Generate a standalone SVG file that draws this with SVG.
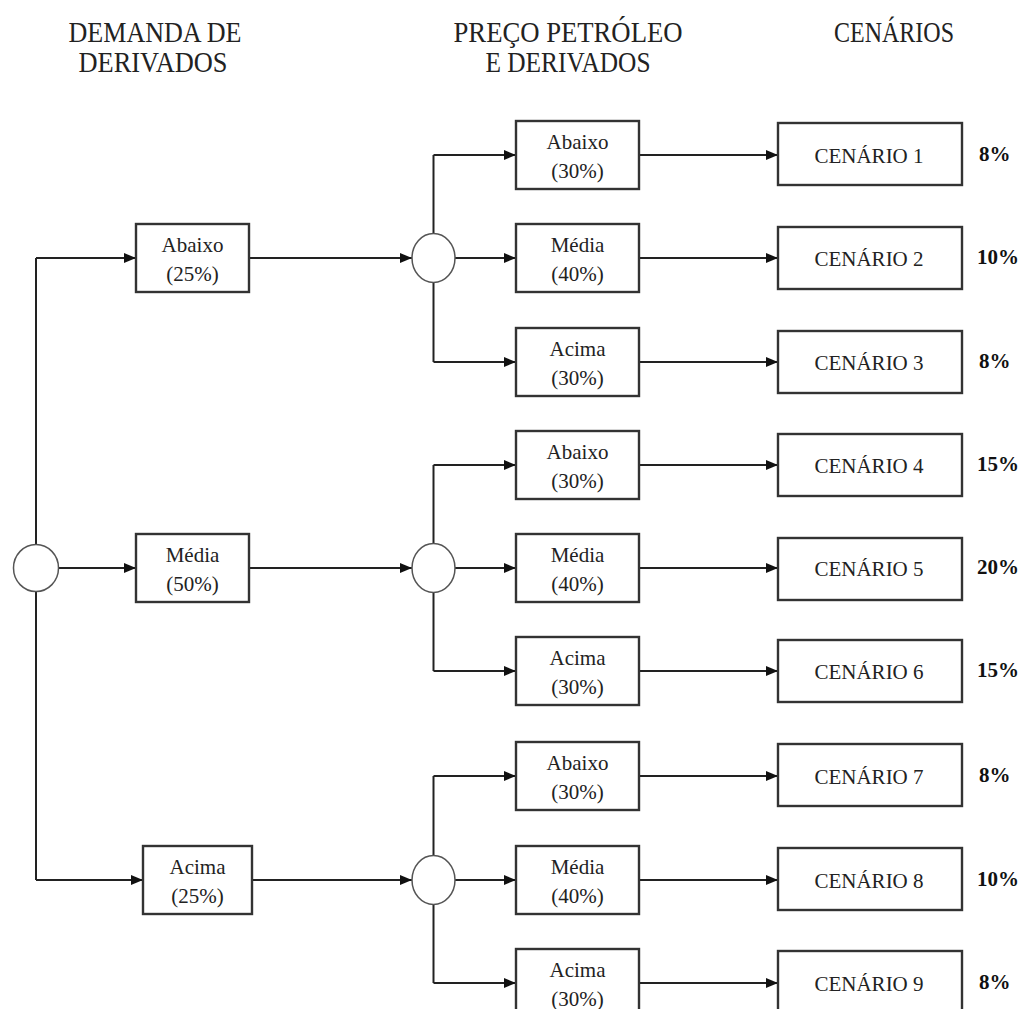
<svg xmlns="http://www.w3.org/2000/svg" width="1026" height="1009" viewBox="0 0 1026 1009">
<style>
.hdr{font-family:"Liberation Serif","Times New Roman",serif;font-size:30px;fill:#222;text-anchor:middle}
.bx{fill:#fff;stroke:#333;stroke-width:2.4}
.cen{fill:#fff;stroke:#333;stroke-width:2.4}
.ch{fill:#fff;stroke:#555;stroke-width:1.5}
.t{font-family:"Liberation Serif","Times New Roman",serif;font-size:21px;fill:#222;text-anchor:middle}
.tc{font-family:"Liberation Serif","Times New Roman",serif;font-size:21px;fill:#222;text-anchor:middle}
.p{font-family:"Liberation Serif","Times New Roman",serif;font-size:21px;font-weight:bold;fill:#111}
.ln{fill:none;stroke:#222;stroke-width:2}
.ar{marker-end:url(#ah)}
</style>
<defs>
<marker id="ah" markerWidth="13" markerHeight="11" refX="12" refY="5" orient="auto" markerUnits="userSpaceOnUse">
<path d="M0,0 L12,5 L0,10 z" fill="#111"/>
</marker>
</defs>
<rect width="1026" height="1009" fill="#fff"/>
<g id="headers">
<text class="hdr" x="155" y="42" textLength="173" lengthAdjust="spacingAndGlyphs">DEMANDA DE</text>
<text class="hdr" x="153" y="72" textLength="149" lengthAdjust="spacingAndGlyphs">DERIVADOS</text>
<text class="hdr" x="568" y="42" textLength="229" lengthAdjust="spacingAndGlyphs">PREÇO PETRÓLEO</text>
<text class="hdr" x="568" y="72" textLength="165" lengthAdjust="spacingAndGlyphs">E DERIVADOS</text>
<text class="hdr" x="894" y="42" textLength="120" lengthAdjust="spacingAndGlyphs">CENÁRIOS</text>
</g>
<g id="connectors">
<path class="ln" d="M36,544.5 V258"/>
<path class="ln ar" d="M36,258 H136"/>
<path class="ln ar" d="M58.5,568 H136"/>
<path class="ln" d="M36,591.5 V880"/>
<path class="ln ar" d="M36,880 H143"/>
<path class="ln ar" d="M249,258 H412"/>
<path class="ln ar" d="M249,568 H412"/>
<path class="ln ar" d="M252,880 H412"/>
<path class="ln" d="M433.5,233.5 V155"/>
<path class="ln ar" d="M433.5,155 H516"/>
<path class="ln ar" d="M455,258 H516"/>
<path class="ln" d="M433.5,282.5 V362"/>
<path class="ln ar" d="M433.5,362 H516"/>
<path class="ln" d="M433.5,543.5 V465"/>
<path class="ln ar" d="M433.5,465 H516"/>
<path class="ln ar" d="M455,568 H516"/>
<path class="ln" d="M433.5,592.5 V671"/>
<path class="ln ar" d="M433.5,671 H516"/>
<path class="ln" d="M433.5,855.5 V776"/>
<path class="ln ar" d="M433.5,776 H516"/>
<path class="ln ar" d="M455,880 H516"/>
<path class="ln" d="M433.5,904.5 V983"/>
<path class="ln ar" d="M433.5,983 H516"/>
<path class="ln ar" d="M639,155 H778"/>
<path class="ln ar" d="M639,258 H778"/>
<path class="ln ar" d="M639,362 H778"/>
<path class="ln ar" d="M639,465 H778"/>
<path class="ln ar" d="M639,568 H778"/>
<path class="ln ar" d="M639,671 H778"/>
<path class="ln ar" d="M639,776 H778"/>
<path class="ln ar" d="M639,880 H778"/>
<path class="ln ar" d="M639,983 H778"/>
</g>
<g id="chance-root"><ellipse class="ch" cx="36" cy="568" rx="22.5" ry="23.5"/></g>
<g id="chance-1"><ellipse class="ch" cx="433.5" cy="258" rx="21.5" ry="24.5"/></g>
<g id="chance-2"><ellipse class="ch" cx="433.5" cy="568" rx="21.5" ry="24.5"/></g>
<g id="chance-3"><ellipse class="ch" cx="433.5" cy="880" rx="21.5" ry="24.5"/></g>
<g id="dem-abaixo"><rect class="bx" x="136" y="224" width="113" height="68"/><text class="t" x="192.5" y="252">Abaixo</text><text class="t" x="192.5" y="281">(25%)</text></g>
<g id="dem-media"><rect class="bx" x="136" y="534" width="113" height="68"/><text class="t" x="192.5" y="562">Média</text><text class="t" x="192.5" y="591">(50%)</text></g>
<g id="dem-acima"><rect class="bx" x="143" y="846" width="109" height="68"/><text class="t" x="197.5" y="874">Acima</text><text class="t" x="197.5" y="903">(25%)</text></g>
<g id="p1-abaixo"><rect class="bx" x="516" y="121" width="123" height="68"/><text class="t" x="577.5" y="149">Abaixo</text><text class="t" x="577.5" y="178">(30%)</text></g>
<g id="p1-media"><rect class="bx" x="516" y="224" width="123" height="68"/><text class="t" x="577.5" y="252">Média</text><text class="t" x="577.5" y="281">(40%)</text></g>
<g id="p1-acima"><rect class="bx" x="516" y="328" width="123" height="68"/><text class="t" x="577.5" y="356">Acima</text><text class="t" x="577.5" y="385">(30%)</text></g>
<g id="p2-abaixo"><rect class="bx" x="516" y="431" width="123" height="68"/><text class="t" x="577.5" y="459">Abaixo</text><text class="t" x="577.5" y="488">(30%)</text></g>
<g id="p2-media"><rect class="bx" x="516" y="534" width="123" height="68"/><text class="t" x="577.5" y="562">Média</text><text class="t" x="577.5" y="591">(40%)</text></g>
<g id="p2-acima"><rect class="bx" x="516" y="637" width="123" height="68"/><text class="t" x="577.5" y="665">Acima</text><text class="t" x="577.5" y="694">(30%)</text></g>
<g id="p3-abaixo"><rect class="bx" x="516" y="742" width="123" height="68"/><text class="t" x="577.5" y="770">Abaixo</text><text class="t" x="577.5" y="799">(30%)</text></g>
<g id="p3-media"><rect class="bx" x="516" y="846" width="123" height="68"/><text class="t" x="577.5" y="874">Média</text><text class="t" x="577.5" y="903">(40%)</text></g>
<g id="p3-acima"><rect class="bx" x="516" y="949" width="123" height="68"/><text class="t" x="577.5" y="977">Acima</text><text class="t" x="577.5" y="1006">(30%)</text></g>
<g id="cen-1"><rect class="cen" x="778" y="123" width="184" height="62"/><text class="tc" x="869" y="163">CENÁRIO 1</text><text class="p" x="979" y="161">8%</text></g>
<g id="cen-2"><rect class="cen" x="778" y="227" width="184" height="62"/><text class="tc" x="869" y="266">CENÁRIO 2</text><text class="p" x="977" y="264">10%</text></g>
<g id="cen-3"><rect class="cen" x="778" y="331" width="184" height="62"/><text class="tc" x="869" y="370">CENÁRIO 3</text><text class="p" x="979" y="368">8%</text></g>
<g id="cen-4"><rect class="cen" x="778" y="434" width="184" height="62"/><text class="tc" x="869" y="473">CENÁRIO 4</text><text class="p" x="977" y="471">15%</text></g>
<g id="cen-5"><rect class="cen" x="778" y="538" width="184" height="62"/><text class="tc" x="869" y="576">CENÁRIO 5</text><text class="p" x="977" y="574">20%</text></g>
<g id="cen-6"><rect class="cen" x="778" y="640" width="184" height="62"/><text class="tc" x="869" y="679">CENÁRIO 6</text><text class="p" x="977" y="677">15%</text></g>
<g id="cen-7"><rect class="cen" x="778" y="744" width="184" height="62"/><text class="tc" x="869" y="784">CENÁRIO 7</text><text class="p" x="979" y="782">8%</text></g>
<g id="cen-8"><rect class="cen" x="778" y="848" width="184" height="62"/><text class="tc" x="869" y="888">CENÁRIO 8</text><text class="p" x="977" y="886">10%</text></g>
<g id="cen-9"><rect class="cen" x="778" y="951" width="184" height="62"/><text class="tc" x="869" y="991">CENÁRIO 9</text><text class="p" x="979" y="989">8%</text></g>
</svg>
